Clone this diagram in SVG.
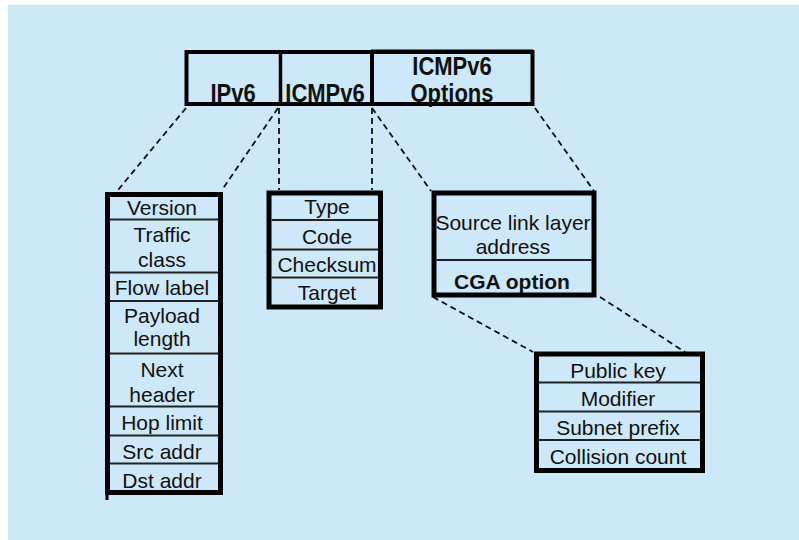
<svg xmlns="http://www.w3.org/2000/svg" width="799" height="540" viewBox="0 0 799 540">
<style>
.box{fill:none;stroke:#000;stroke-width:5}
.div{stroke:#222;stroke-width:1.8}
.t{font-family:"Liberation Sans",Arial,sans-serif;font-size:21px;fill:#111;text-anchor:middle}
.b{font-family:"Liberation Sans",Arial,sans-serif;font-size:22px;font-weight:bold;fill:#111;text-anchor:middle}
.cb{font-family:"Liberation Sans",Arial,sans-serif;font-size:21px;font-weight:bold;fill:#111;text-anchor:middle}
.dash{stroke:#111;stroke-width:1.8;stroke-dasharray:6,4;fill:none}
</style>
<rect x="0" y="0" width="799" height="540" fill="#ffffff"/>
<rect x="8" y="5" width="791" height="535" fill="#cde8f8"/>

<g id="packet">
  <rect x="186.5" y="52" width="346" height="52" fill="none" stroke="#000" stroke-width="4"/>
  <line x1="371" y1="51" x2="533" y2="51" stroke="#000" stroke-width="3"/>
  <line x1="280.5" y1="52" x2="280.5" y2="104" stroke="#000" stroke-width="3.5"/>
  <line x1="372" y1="52" x2="372" y2="104" stroke="#000" stroke-width="4"/>
  <text class="b" transform="translate(233,101.5) scale(1,1.14)">IPv6</text>
  <text class="b" transform="translate(325,101.5) scale(1,1.14)">ICMPv6</text>
  <text class="b" transform="translate(452,75) scale(1,1.14)">ICMPv6</text>
  <text class="b" transform="translate(452,101.5) scale(1,1.14)">Options</text>
</g>

<g id="connectors">
  <line class="dash" x1="186" y1="108" x2="118" y2="190"/>
  <line class="dash" x1="278" y1="108" x2="222" y2="190"/>
  <line class="dash" x1="279" y1="108" x2="279" y2="190"/>
  <line class="dash" x1="372" y1="108" x2="372" y2="190"/>
  <line class="dash" x1="372" y1="108" x2="431" y2="191"/>
  <line class="dash" x1="535" y1="108" x2="594" y2="191"/>
  <line class="dash" x1="433" y1="297" x2="533" y2="352"/>
  <line class="dash" x1="600" y1="297" x2="685" y2="352"/>
</g>

<g id="ipv6-header">
  <rect class="box" x="107.5" y="194.5" width="113" height="298"/>
  <line x1="107" y1="492" x2="107" y2="500" stroke="#000" stroke-width="3"/>
  <line class="div" x1="110" y1="219.5" x2="218" y2="219.5"/>
  <line class="div" x1="110" y1="272.5" x2="218" y2="272.5"/>
  <line class="div" x1="110" y1="301" x2="218" y2="301"/>
  <line class="div" x1="110" y1="353.5" x2="218" y2="353.5"/>
  <line class="div" x1="110" y1="406.5" x2="218" y2="406.5"/>
  <line class="div" x1="110" y1="435.5" x2="218" y2="435.5"/>
  <line class="div" x1="110" y1="463.5" x2="218" y2="463.5"/>
  <text class="t" x="162" y="215">Version</text>
  <text class="t" x="162" y="241.5">Traffic</text>
  <text class="t" x="162" y="266.5">class</text>
  <text class="t" x="162" y="295">Flow label</text>
  <text class="t" x="162" y="323">Payload</text>
  <text class="t" x="162" y="346">length</text>
  <text class="t" x="162" y="376.5">Next</text>
  <text class="t" x="162" y="401.5">header</text>
  <text class="t" x="162" y="430">Hop limit</text>
  <text class="t" x="162" y="459">Src addr</text>
  <text class="t" x="162" y="488">Dst addr</text>
</g>

<g id="icmpv6-fields">
  <rect class="box" x="269" y="193" width="111.5" height="114"/>
  <line class="div" x1="271.5" y1="220" x2="378" y2="220"/>
  <line class="div" x1="271.5" y1="249.5" x2="378" y2="249.5"/>
  <line class="div" x1="271.5" y1="277.5" x2="378" y2="277.5"/>
  <text class="t" x="327" y="213.5">Type</text>
  <text class="t" x="327" y="244">Code</text>
  <text class="t" x="327" y="271.5">Checksum</text>
  <text class="t" x="327" y="299.5">Target</text>
</g>

<g id="icmpv6-options">
  <rect class="box" x="434" y="193" width="160" height="102"/>
  <line class="div" x1="436.5" y1="260" x2="591.5" y2="260"/>
  <text class="t" x="513" y="230">Source link layer</text>
  <text class="t" x="513" y="254">address</text>
  <text class="cb" x="512" y="288.5">CGA option</text>
</g>

<g id="cga-option">
  <rect class="box" x="536.5" y="354" width="166" height="116.5"/>
  <line class="div" x1="539" y1="382.5" x2="700" y2="382.5"/>
  <line class="div" x1="539" y1="411.5" x2="700" y2="411.5"/>
  <line class="div" x1="539" y1="440" x2="700" y2="440"/>
  <text class="t" x="618" y="377.5">Public key</text>
  <text class="t" x="618" y="406">Modifier</text>
  <text class="t" x="618" y="434.5">Subnet prefix</text>
  <text class="t" x="618" y="463.5">Collision count</text>
</g>
</svg>
